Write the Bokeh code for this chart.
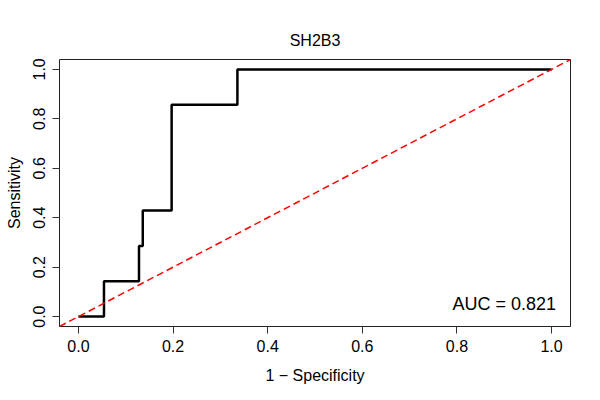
from bokeh.plotting import figure
from bokeh.models import Range1d, FixedTicker, PrintfTickFormatter, Slope, Label
from bokeh.embed import file_html
from bokeh.resources import INLINE

# ---- data ----
title_text = "SH2B3"
fpr = [0.0, 0.054, 0.128, 0.136, 0.197, 0.336, 1.0]      # 1 - Specificity
tpr = [0.0, 0.143, 0.286, 0.429, 0.857, 1.0, 1.0]        # Sensitivity
ticks = [0.0, 0.2, 0.4, 0.6, 0.8, 1.0]
auc_text = "AUC = 0.821"
x_label = "1 \u2212 Specificity"
y_label = "Sensitivity"

FONT = "Liberation Sans"

p = figure(width=592, height=392,
           x_range=Range1d(-0.04, 1.04), y_range=Range1d(-0.04, 1.04),
           output_backend="svg", toolbar_location=None,
           min_border_left=59, min_border_right=22,
           min_border_top=59, min_border_bottom=66,
           title=title_text)

p.background_fill_color = "white"
p.border_fill_color = "white"
p.outline_line_color = "#222222"
p.outline_line_width = 1
p.grid.visible = False

p.title.align = "center"
p.title.text_font = FONT
p.title.text_font_size = "16px"
p.title.text_font_style = "normal"
p.title.text_color = "black"
p.title.standoff = 21

for ax in (p.xaxis[0], p.yaxis[0]):
    ax.ticker = FixedTicker(ticks=ticks)
    ax.formatter = PrintfTickFormatter(format="%.1f")
    ax.axis_line_color = None
    ax.major_tick_out = 7
    ax.major_tick_in = 0
    ax.major_tick_line_color = "#333333"
    ax.minor_tick_line_color = None
    ax.major_label_text_font = FONT
    ax.major_label_text_font_size = "16px"
    ax.major_label_text_color = "black"
    ax.axis_label_text_font = FONT
    ax.axis_label_text_font_size = "16px"
    ax.axis_label_text_font_style = "normal"
    ax.axis_label_text_color = "black"

p.xaxis.axis_label = x_label
p.yaxis.axis_label = y_label
p.xaxis.major_label_standoff = 6
p.xaxis.axis_label_standoff = 12
p.yaxis.major_label_standoff = 7
p.yaxis.axis_label_standoff = 8
p.yaxis.major_label_orientation = "vertical"

# reference diagonal
p.add_layout(Slope(gradient=1, y_intercept=0, line_color="#FF0000",
                   line_width=1.5, line_dash="7 4"))

# ROC curve
p.step(fpr, tpr, mode="after", line_color="black", line_width=2.5)

p.add_layout(Label(x=0.9, y=0.05, text=auc_text, text_align="center",
                   text_baseline="middle", text_font=FONT,
                   text_font_size="18px", text_color="black"))

open("out.html", "w").write(file_html(p, INLINE))
